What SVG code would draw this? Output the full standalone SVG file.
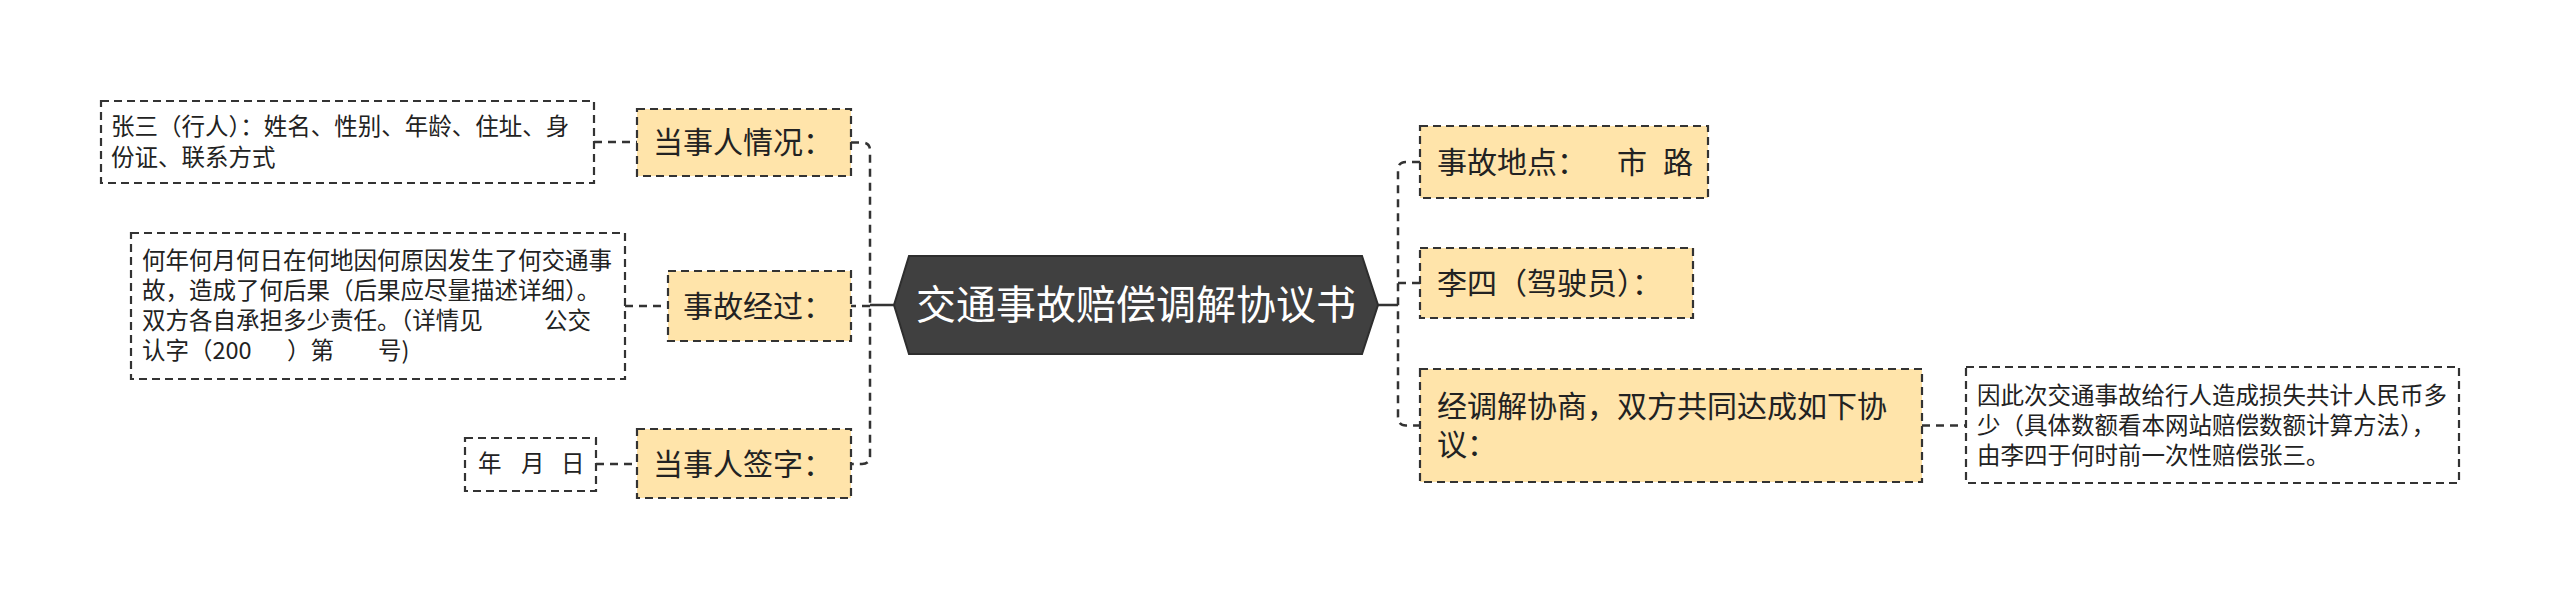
<svg xmlns="http://www.w3.org/2000/svg" width="2560" height="601" viewBox="0 0 2560 601">
<style>
.node rect{fill:#FFE4AA;stroke:#333;stroke-width:2.2;stroke-dasharray:8 5}
.leaf rect{fill:#fff;stroke:#333;stroke-width:2.2;stroke-dasharray:8 5}
.t{font-family:"Noto Sans CJK SC","Noto Sans",sans-serif;fill:#222;white-space:pre}
.nt{font-size:30px}
.lt{font-size:23.5px}
.con path{fill:none;stroke:#333;stroke-width:2.5}
.con .d{stroke-dasharray:8 6}
</style>
<rect width="2560" height="601" fill="#fff"/>
<g id="connectors" class="con">
<path d="M870 305H894M1378 305H1398"/>
<path class="d" d="M851 142.5H862Q870 142.5 870 150.5V456Q870 464 862 464H851M870 306H851"/>
<path class="d" d="M1420 162H1406Q1398 162 1398 170V417Q1398 425.5 1406 425.5H1420M1398 283H1420"/>
<path class="d" d="M594 142H637M625 306H668M596 464H637M1922 425.5H1966"/>
</g>
<g id="root">
<polygon points="894,305 909,256 1362,256 1378,305 1362,354 909,354" fill="#404040" stroke="#2e2e2e" stroke-width="2"/>
<text class="t" x="1136" y="319" font-size="40" text-anchor="middle" style="fill:#fff">交通事故赔偿调解协议书</text>
</g>
<g id="n1" class="node"><rect x="637" y="109" width="214" height="67"/><text class="t nt" x="653" y="153">当事人情况：</text></g>
<g id="l1" class="leaf"><rect x="101" y="101" width="493" height="82"/><text class="t lt"><tspan x="111" y="135">张三（行人）：姓名、性别、年龄、住址、身</tspan><tspan x="111" y="166">份证、联系方式</tspan></text></g>
<g id="n2" class="node"><rect x="668" y="271" width="183" height="70"/><text class="t nt" x="683" y="317">事故经过：</text></g>
<g id="l2" class="leaf"><rect x="131" y="233" width="494" height="146"/><text class="t lt"><tspan x="142" y="269">何年何月何日在何地因何原因发生了何交通事</tspan><tspan x="142" y="299">故，造成了何后果（后果应尽量描述详细）。</tspan><tspan x="142" y="329">双方各自承担多少责任。（详情见</tspan><tspan x="544" y="329">公交</tspan><tspan x="142" y="359">认字（200</tspan><tspan x="287" y="359">）第</tspan><tspan x="378" y="359">号)</tspan></text></g>
<g id="n3" class="node"><rect x="637" y="429" width="214" height="69"/><text class="t nt" x="653" y="475">当事人签字：</text></g>
<g id="l3" class="leaf"><rect x="465" y="438" width="131" height="53"/><text class="t lt" y="472"><tspan x="478">年</tspan><tspan x="521">月</tspan><tspan x="561">日</tspan></text></g>
<g id="r1" class="node"><rect x="1420" y="126" width="288" height="72"/><text class="t nt" y="173"><tspan x="1437">事故地点：</tspan><tspan x="1617">市</tspan><tspan x="1663">路</tspan></text></g>
<g id="r2" class="node"><rect x="1420" y="248" width="273" height="70"/><text class="t nt" x="1437" y="294">李四（驾驶员）：</text></g>
<g id="r3" class="node"><rect x="1420" y="369" width="502" height="113"/><text class="t nt"><tspan x="1437" y="417">经调解协商，双方共同达成如下协</tspan><tspan x="1437" y="455">议：</tspan></text></g>
<g id="rl" class="leaf"><rect x="1966" y="367" width="493" height="116"/><text class="t lt"><tspan x="1977" y="404">因此次交通事故给行人造成损失共计人民币多</tspan><tspan x="1977" y="434">少（具体数额看本网站赔偿数额计算方法），</tspan><tspan x="1977" y="464">由李四于何时前一次性赔偿张三。</tspan></text></g>
</svg>
